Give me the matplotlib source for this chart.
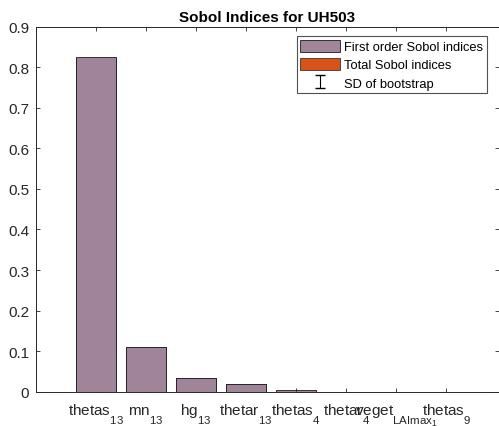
import matplotlib
matplotlib.use("Agg")
import matplotlib.pyplot as plt
import numpy as np
import matplotlib._mathtext as _mt

plt.rcParams['font.family'] = ['Liberation Sans', 'DejaVu Sans']
plt.rcParams['mathtext.fontset'] = 'custom'
plt.rcParams['mathtext.rm'] = 'Liberation Sans'
plt.rcParams['mathtext.it'] = 'Liberation Sans'
plt.rcParams['mathtext.bf'] = 'Liberation Sans:bold'
try:
    _mt.FontConstantsBase.sub1 = 1.2
    _mt.FontConstantsBase.sub2 = 0.35
    _mt.SHRINK_FACTOR = 0.75
except Exception:
    pass

categories = [r'thetas$_{13}$', r'mn$_{13}$', r'hg$_{13}$', r'thetar$_{13}$',
              r'thetas$_{4}$', r'thetar$_{4}$', r'veget$_{\mathrm{LAImax}^{}_{1}}$', r'thetas$_{9}$']
first_order = [0.825, 0.111, 0.034, 0.019, 0.003, 0.0, 0.0, 0.0]
total_order = [0.824, 0.110, 0.033, 0.018, 0.002, 0.0, 0.0, 0.0]
sd_boot = [0.0005, 0.0004, 0.0003, 0.0002, 0.0002, 0.0, 0.0, 0.0]
yticks = [0, 0.1, 0.2, 0.3, 0.4, 0.5, 0.6, 0.7, 0.8, 0.9]
ytick_labels = ['0', '0.1', '0.2', '0.3', '0.4', '0.5', '0.6', '0.7', '0.8', '0.9']

fig = plt.figure(figsize=(4.99, 4.27), dpi=100)
ax = fig.add_axes([36/499, 1-392.7/427, (499-36)/499, (392.7-27.7)/427])

x = np.arange(1, len(categories)+1)
edge = '#1a1a1a'
ax.bar(x, total_order, width=0.8, color='#D95319', edgecolor=edge, linewidth=0.5,
       label='Total Sobol indices', zorder=2)
ax.bar(x, first_order, width=0.8, color='#A0849A', edgecolor=edge, linewidth=0.6,
       label='First order Sobol indices', zorder=3)
ax.errorbar(x, first_order, yerr=sd_boot, fmt='none', ecolor='black', elinewidth=0.6,
            capsize=0, zorder=4)
# legend proxy for the bootstrap SD (no visible data)
ax.errorbar([np.nan], [np.nan], yerr=[np.nan], fmt='none', ecolor='black', elinewidth=0.8,
            capsize=3.5, label='SD of bootstrap')

h, l = ax.get_legend_handles_labels()
order = [l.index('First order Sobol indices'), l.index('Total Sobol indices'), l.index('SD of bootstrap')]
leg = ax.legend([h[i] for i in order], [l[i] for i in order], loc='upper right',
                bbox_to_anchor=(0.982, 0.985), fontsize=9.3, frameon=True, fancybox=False,
                handlelength=3.1, handleheight=1.05, borderpad=0.28, labelspacing=0.38,
                handletextpad=0.3, borderaxespad=0.3)
leg.get_frame().set_edgecolor('#262626')
leg.get_frame().set_linewidth(0.8)

ax.set_xlim(-0.19, 9.05)
ax.set_ylim(0, 0.9)
ax.tick_params(direction='in', top=True, right=True, length=3, width=0.6,
               colors='#262626', labelcolor='#262626', pad=5)
ax.tick_params(axis='x', pad=16)
ax.set_xticks(x)
ax.set_xticklabels(categories, fontsize=11, va='baseline')
ax.set_yticks(yticks)
ax.set_yticklabels(ytick_labels, fontsize=11)
for s in ax.spines.values():
    s.set_color('#262626')
    s.set_linewidth(0.7)
ax.set_title('Sobol Indices for UH503', fontsize=11, fontweight='bold', pad=4)

fig.savefig('out.png', dpi=100)
